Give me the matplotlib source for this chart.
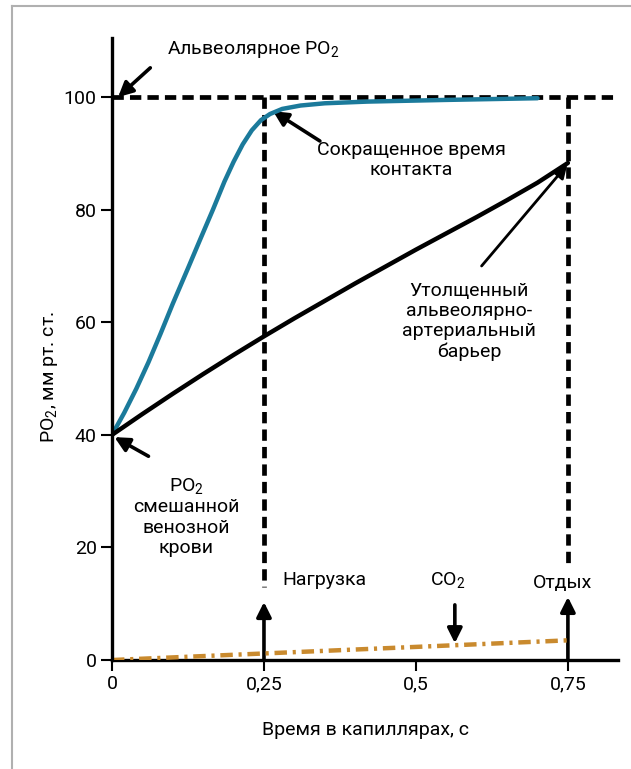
import numpy as np
from matplotlib import pyplot as plt
from matplotlib.lines import Line2D

plt.rcParams['font.family'] = ['Roboto', 'DejaVu Sans']
plt.rcParams['mathtext.fontset'] = 'custom'
plt.rcParams['mathtext.rm'] = 'Roboto'
plt.rcParams['mathtext.it'] = 'Roboto'

# время в капилляре, с
t_blue = [0, 0.02, 0.04, 0.06, 0.08, 0.1, 0.125, 0.145, 0.166, 0.185, 0.2, 0.215,
          0.23, 0.245, 0.26, 0.28, 0.31, 0.35, 0.42, 0.55, 0.7]
po2_short = [40, 43.9, 48.2, 52.9, 58, 63.3, 69.6, 74.7, 80, 85, 88.5, 91.6,
             94.1, 95.9, 97.0, 97.9, 98.5, 98.9, 99.2, 99.5, 99.8]

t_black = [0, 0.05, 0.1, 0.15, 0.2, 0.25, 0.3, 0.35, 0.4, 0.45, 0.5, 0.55, 0.6,
           0.65, 0.7, 0.75]
po2_thick = [40, 43.7, 47.3, 50.8, 54.2, 57.5, 60.7, 63.8, 66.9, 69.9, 72.9, 75.8,
             78.7, 81.7, 84.8, 88.3]

t_co2 = [0, 0.75]
co2 = [0, 3.5]

alv_po2 = 100
t_exercise = 0.25
t_rest = 0.75

xticks = [0, 0.25, 0.5, 0.75]
xlabels = ['0', '0,25', '0,5', '0,75']
yticks = [0, 20, 40, 60, 80, 100]

fig = plt.figure(figsize=(6.31, 7.69), dpi=100)
ax = fig.add_axes([0.1775, 0.1417, 0.8015, 0.8089])
ax.set_xlim(0, 0.832)
ax.set_ylim(0, 110.5)

for s in ['top', 'right']:
    ax.spines[s].set_visible(False)
for s in ['left', 'bottom']:
    ax.spines[s].set_linewidth(2.4)
ax.tick_params(direction='out', length=8, width=1.5, labelsize=14, pad=3)
ax.set_xticks(xticks)
ax.set_xticklabels(xlabels)
ax.set_yticks(yticks)
ax.spines['left'].set_zorder(5)

dash = (0, (2.4, 1.3))
ax.plot([0, 0.832], [alv_po2, alv_po2], color='k', lw=3.4, ls=dash, clip_on=False)
ax.plot([t_exercise, t_exercise], [alv_po2, 13], color='k', lw=3.4, ls=dash)
ax.plot([t_rest, t_rest], [alv_po2, 16.5], color='k', lw=3.4, ls=dash)

ax.plot(t_blue, po2_short, color='#1b7a9b', lw=3.2, solid_capstyle='round',
        solid_joinstyle='round', zorder=4)
ax.plot(t_black, po2_thick, color='k', lw=3.2, solid_capstyle='round',
        solid_joinstyle='round', zorder=4)
ax.plot(t_co2, co2, color='#c98a2e', lw=3.2, ls=(0, (2.8, 1.3, 0.7, 1.3)), zorder=4)

big = dict(arrowstyle='-|>', lw=2.6, color='k', mutation_scale=22, shrinkA=0, shrinkB=0)
thin = dict(arrowstyle='-|>', lw=2.0, color='k', mutation_scale=20, shrinkA=0, shrinkB=0)

ax.annotate('', xy=(0.01, 100), xytext=(0.063, 105.2), arrowprops=big)
ax.text(0.09, 108.4, 'Альвеолярное PO$_2$', fontsize=14, va='center', ha='left')

ax.annotate('', xy=(0.265, 97.5), xytext=(0.342, 92.2), arrowprops=big)
ax.text(0.492, 88.8, 'Сокращенное время\nконтакта', fontsize=14, va='center',
        ha='center', linespacing=1.15)

ax.annotate('', xy=(0.749, 88.0), xytext=(0.608, 70.0), arrowprops=thin)
ax.text(0.588, 60.2, 'Утолщенный\nальвеолярно-\nартериальный\nбарьер', fontsize=14,
        va='center', ha='center', linespacing=1.15)

ax.annotate('', xy=(0.004, 39.6), xytext=(0.06, 36.2), arrowprops=big)
ax.text(0.122, 25.5, 'PO$_2$\nсмешанной\nвенозной\nкрови', fontsize=14,
        va='center', ha='center', linespacing=1.15)

ax.annotate('', xy=(t_exercise, 10.3), xytext=(t_exercise, 0), arrowprops=big)
ax.text(0.28, 14.3, 'Нагрузка', fontsize=14, va='center', ha='left')

ax.annotate('', xy=(t_rest, 11.2), xytext=(t_rest, 0), arrowprops=big)
ax.text(0.741, 13.6, 'Отдых', fontsize=14, va='center', ha='center')

ax.annotate('', xy=(0.564, 3.0), xytext=(0.564, 9.8), arrowprops=big)
ax.text(0.553, 14.3, 'CO$_2$', fontsize=14, va='center', ha='center')

fig.text(365 / 631, 1 - 730 / 769, 'Время в капиллярах, с', fontsize=14,
         ha='center', va='center')
fig.text(50 / 631, 1 - 377 / 769, 'PO$_2$, мм рт. ст.', fontsize=14,
         ha='center', va='center', rotation=90)

# рамка карточки сверху и слева
fig.add_artist(Line2D([12 / 631, 12 / 631], [0, 1 - 6 / 769], color='#b0b0b0', lw=1.5))
fig.add_artist(Line2D([12 / 631, 1], [1 - 6 / 769, 1 - 6 / 769], color='#b0b0b0', lw=1.5))

fig.savefig('out.png', dpi=100)
